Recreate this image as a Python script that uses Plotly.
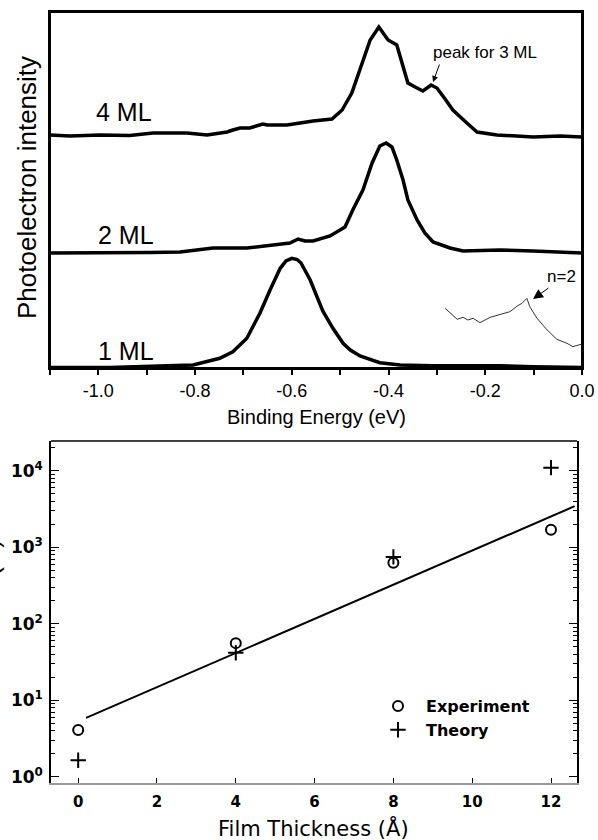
import plotly.graph_objects as go

# ---------------- Photoemission spectra (stacked, arb. units) ----------------
be_4ml = [-1.100, -1.059, -0.997, -0.935, -0.887, -0.817, -0.775, -0.734, -0.722, -0.707,
          -0.687, -0.660, -0.651, -0.610, -0.583, -0.556, -0.517, -0.496, -0.476, -0.465,
          -0.455, -0.438, -0.420, -0.401, -0.383, -0.370, -0.360, -0.345, -0.329, -0.312,
          -0.300, -0.283, -0.267, -0.238, -0.217, -0.176, -0.101, -0.045, 0.000]
int_4ml = [2.33, 2.32, 2.33, 2.325, 2.35, 2.35, 2.33, 2.36, 2.38, 2.40,
           2.40, 2.44, 2.43, 2.43, 2.45, 2.47, 2.49, 2.58, 2.75, 2.90,
           3.06, 3.28, 3.41, 3.28, 3.23, 3.01, 2.85, 2.81, 2.77, 2.83,
           2.80, 2.69, 2.58, 2.45, 2.36, 2.33, 2.31, 2.32, 2.31]

be_2ml = [-1.100, -0.997, -0.893, -0.831, -0.763, -0.693, -0.624, -0.604, -0.587, -0.573,
          -0.556, -0.521, -0.490, -0.474, -0.453, -0.434, -0.418, -0.405, -0.393, -0.383,
          -0.370, -0.360, -0.341, -0.325, -0.308, -0.273, -0.246, -0.170, -0.101, -0.060, 0.000]
int_2ml = [1.15, 1.15, 1.155, 1.16, 1.20, 1.20, 1.24, 1.25, 1.29, 1.27,
           1.27, 1.32, 1.41, 1.58, 1.78, 2.05, 2.22, 2.25, 2.21, 2.08,
           1.88, 1.68, 1.48, 1.35, 1.26, 1.20, 1.17, 1.18, 1.17, 1.16, 1.15]

be_1ml = [-1.100, -0.976, -0.858, -0.804, -0.749, -0.722, -0.693, -0.666, -0.645, -0.624,
          -0.612, -0.600, -0.589, -0.581, -0.562, -0.548, -0.536, -0.515, -0.494, -0.479,
          -0.459, -0.418, -0.376, -0.308, -0.170, -0.101, -0.052, 0.000]
int_1ml = [0.005, 0.005, 0.023, 0.030, 0.097, 0.163, 0.297, 0.547, 0.78, 0.997,
           1.07, 1.097, 1.085, 1.05, 0.88, 0.70, 0.57, 0.397, 0.247, 0.18,
           0.12, 0.053, 0.03, 0.023, 0.023, 0.013, 0.005, 0.005]

# magnified n=2 image-state region
be_n2 = [-0.283, -0.258, -0.246, -0.236, -0.225, -0.211, -0.190, -0.170, -0.149, -0.134,
         -0.124, -0.114, -0.108, -0.093, -0.072, -0.052, -0.031, -0.019, 0.000]
int_n2 = [0.597, 0.487, 0.507, 0.48, 0.497, 0.453, 0.507, 0.537, 0.563, 0.62,
          0.647, 0.697, 0.613, 0.497, 0.38, 0.287, 0.247, 0.213, 0.24]

be_ticks = [-1.0, -0.8, -0.6, -0.4, -0.2, 0.0]
be_tick_text = ["-1.0", "-0.8", "-0.6", "-0.4", "-0.2", "0.0"]
be_minor = [-1.1, -0.9, -0.7, -0.5, -0.3, -0.1]

# ---------------- Thickness dependence ----------------
thickness = [0, 4, 8, 12]
experiment = [4.1, 56, 630, 1700]
theory = [1.65, 42, 750, 11000]
fit_x = [0.2, 12.6]
fit_y = [5.9, 3450]

thick_ticks = [0, 2, 4, 6, 8, 10, 12]
decades = [1, 10, 100, 1000, 10000]
decade_text = ["10<sup>0</sup>", "10<sup>1</sup>", "10<sup>2</sup>", "10<sup>3</sup>", "10<sup>4</sup>"]
minor_log = [m * d for d in decades for m in range(2, 10)]

W, H = 598, 840
ARIAL = "Arial, Liberation Sans, sans-serif"
DJV = "DejaVu Sans, sans-serif"

fig = go.Figure()

spec_line = dict(color="black", width=3.5)
for be, inten in [(be_4ml, int_4ml), (be_2ml, int_2ml), (be_1ml, int_1ml)]:
    fig.add_trace(go.Scatter(x=be, y=inten, mode="lines", line=spec_line,
                             showlegend=False, xaxis="x", yaxis="y"))
fig.add_trace(go.Scatter(x=be_n2, y=int_n2, mode="lines", line=dict(color="#333333", width=1),
                         showlegend=False, xaxis="x", yaxis="y"))

fig.add_trace(go.Scatter(x=fit_x, y=fit_y, mode="lines", line=dict(color="black", width=2),
                         showlegend=False, xaxis="x2", yaxis="y2"))
fig.add_trace(go.Scatter(x=thickness, y=experiment, mode="markers", name="Experiment",
                         marker=dict(symbol="circle-open", size=10, color="black",
                                     line=dict(width=2, color="black")),
                         xaxis="x2", yaxis="y2"))
fig.add_trace(go.Scatter(x=thickness, y=theory, mode="markers", name="Theory",
                         marker=dict(symbol="cross-thin", size=11, color="black",
                                     line=dict(width=2, color="black")),
                         xaxis="x2", yaxis="y2"))

ann = []
for txt, xx, yy in [("4 ML", -0.947, 2.555), ("2 ML", -0.943, 1.33), ("1 ML", -0.943, 0.17)]:
    ann.append(dict(text=txt, x=xx, y=yy, xref="x", yref="y", showarrow=False,
                    xanchor="center", yanchor="middle",
                    font=dict(family=ARIAL, size=25, color="black")))
ann.append(dict(text="peak for 3 ML", x=-0.2006, y=3.15, xref="x", yref="y", showarrow=False,
                xanchor="center", yanchor="middle",
                font=dict(family=ARIAL, size=17, color="black")))
ann.append(dict(text="", x=-0.308, y=2.86, ax=-0.2936, ay=3.05, xref="x", yref="y",
                axref="x", ayref="y", showarrow=True, arrowhead=2, arrowsize=1.2,
                arrowwidth=1, arrowcolor="black"))
ann.append(dict(text="n=2", x=-0.0414, y=0.91, xref="x", yref="y", showarrow=False,
                xanchor="center", yanchor="middle",
                font=dict(family=ARIAL, size=17, color="black")))
ann.append(dict(text="", x=-0.1013, y=0.69, ax=-0.0662, ay=0.81, xref="x", yref="y",
                axref="x", ayref="y", showarrow=True, arrowhead=2, arrowsize=2,
                arrowwidth=1, arrowcolor="black"))
ann.append(dict(text="Photoelectron intensity", x=27 / W, y=1 - 188 / H, xref="paper", yref="paper",
                xanchor="center", yanchor="middle",
                textangle=-90, showarrow=False, font=dict(family=ARIAL, size=26, color="black")))
ann.append(dict(text="Binding Energy (eV)", x=316 / W, y=1 - 417 / H, xref="paper", yref="paper",
                xanchor="center", yanchor="middle",
                showarrow=False, font=dict(family=ARIAL, size=20, color="black")))
ann.append(dict(text="Film Thickness (Å)", x=313 / W, y=1 - 828 / H, xref="paper", yref="paper",
                xanchor="center", yanchor="middle",
                showarrow=False, font=dict(family=DJV, size=21, color="black")))
ann.append(dict(text="Lifetime (fs)", x=6 / W, y=1 - 605 / H, xref="paper", yref="paper",
                xanchor="right", yanchor="middle", textangle=-90, showarrow=False,
                font=dict(family=ARIAL, size=25, color="black")))

fig.update_layout(
    template="none",
    width=W, height=H, autosize=False,
    margin=dict(l=0, r=0, t=0, b=0, pad=0),
    paper_bgcolor="white", plot_bgcolor="white",
    xaxis=dict(domain=[50 / W, 582 / W], anchor="y", range=[-1.1, 0.0], automargin=False,
               showline=True, linecolor="black", linewidth=2, mirror=True,
               ticks="outside", ticklen=5, tickwidth=1.5, tickcolor="black",
               tickmode="array", tickvals=be_ticks, ticktext=be_tick_text,
               tickfont=dict(family=ARIAL, size=18, color="black"),
               minor=dict(tickmode="array", tickvals=be_minor, ticks="outside",
                          ticklen=5, tickwidth=1.5, tickcolor="black", showgrid=False),
               showgrid=False, zeroline=False),
    yaxis=dict(domain=[1 - 368 / H, 1 - 12 / H], anchor="x", range=[0, 3.56], automargin=False,
               showline=True, linecolor="black", linewidth=2, mirror=True,
               showticklabels=False, ticks="", showgrid=False, zeroline=False),
    xaxis2=dict(domain=[51 / W, 577 / W], anchor="y2", range=[-0.69, 12.66], automargin=False,
                showline=True, linecolor="#9a9a9a", linewidth=1.5, mirror=False,
                ticks="inside", ticklen=5, tickwidth=1.2, tickcolor="black",
                tickmode="array", tickvals=thick_ticks, ticklabelstandoff=4,
                tickfont=dict(family=DJV, size=15, color="black", weight="bold"),
                showgrid=False, zeroline=False),
    yaxis2=dict(domain=[1 - 783 / H, 1 - 441 / H], anchor="x2", type="log", automargin=False,
                range=[-0.08, 4.39],
                showline=True, linecolor="black", linewidth=1.5, mirror="ticks",
                ticks="inside", ticklen=8, tickwidth=1.2, tickcolor="black",
                tickmode="array", tickvals=decades, ticktext=decade_text, ticklabelstandoff=3,
                tickfont=dict(family=DJV, size=17, color="black", weight="bold"),
                minor=dict(tickmode="array", tickvals=minor_log, ticks="inside",
                           ticklen=4, tickwidth=1, tickcolor="black", showgrid=False),
                showgrid=False, zeroline=False),
    shapes=[
        # frame of the spectra panel
        dict(type="rect", xref="x domain", yref="y domain", x0=0, x1=1, y0=0, y1=1,
             line=dict(color="black", width=2), fillcolor="rgba(0,0,0,0)", layer="above"),
        # top edge of the lifetime panel
        dict(type="line", xref="x2 domain", yref="y2 domain", x0=0, x1=1, y0=1, y1=1,
             line=dict(color="black", width=1.5)),
    ],
    showlegend=True,
    legend=dict(x=370 / W, y=1 - 689 / H, xanchor="left", yanchor="top",
                bgcolor="rgba(0,0,0,0)", borderwidth=0, itemwidth=46,
                font=dict(family=DJV, size=16, color="black", weight="bold"), tracegroupgap=0),
    annotations=ann,
)

fig.write_html("out.html", config={"responsive": False})
